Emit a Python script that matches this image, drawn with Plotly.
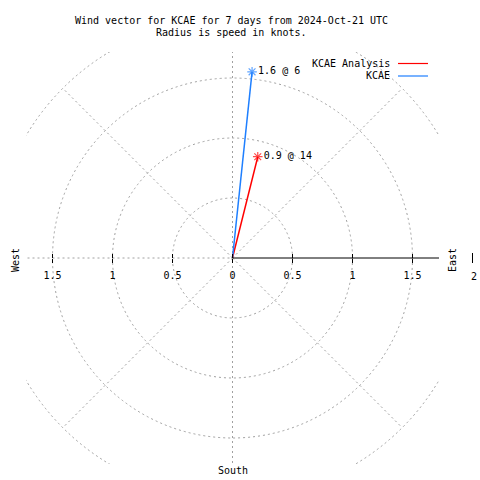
import math
import plotly.graph_objects as go

# ---- data ----
series_names = ["KCAE Analysis", "KCAE"]
series_colors = ["#ff0000", "#1e7fff"]
speeds = [0.87, 1.56]          # knots
directions = [14, 6]           # degrees (clockwise from north)

ring_radii = [0.5, 1.0, 1.5, 2.0]
spoke_angles = [45, 135, 225, 315]
tick_vals = [-1.5, -1.0, -0.5, 0.0, 0.5, 1.0, 1.5]
tick_text = ["1.5", "1", "0.5", "0", "0.5", "1", "1.5"]
title_lines = ["Wind vector for KCAE for 7 days from 2024-Oct-21 UTC",
               "Radius is speed in knots."]

W, H = 480, 480
L, T = 26, 52
PW, PH = 413, 412
R, B = W - L - PW, H - T - PH
UNIT = 120.0
XR = PW / 2 / UNIT
YR = PH / 2 / UNIT

FONT = "DejaVu Sans Mono"
GRID = "#a0a0a0"
DOT = "2px,3px"


def px(x):  # window pixel -> paper
    return (x - L) / PW


def py(y):
    return 1 - (y - T) / PH


fig = go.Figure()

shapes = []
for r in ring_radii:
    shapes.append(dict(type="circle", xref="x", yref="y", x0=-r, y0=-r, x1=r, y1=r,
                       line=dict(color=GRID, width=1, dash=DOT), layer="below"))
for a in spoke_angles:
    t = math.radians(a)
    shapes.append(dict(type="line", xref="x", yref="y", x0=0, y0=0,
                       x1=2 * math.cos(t), y1=2 * math.sin(t),
                       line=dict(color=GRID, width=1, dash=DOT), layer="below"))
shapes.append(dict(type="line", xref="x", yref="y", x0=0, y0=-2, x1=0, y1=2,
                   line=dict(color=GRID, width=1, dash=DOT), layer="below"))
shapes.append(dict(type="line", xref="x", yref="y", x0=-2, y0=0, x1=0, y1=0,
                   line=dict(color=GRID, width=1, dash=DOT), layer="below"))
shapes.append(dict(type="line", xref="x", yref="y", x0=0, y0=0, x1=XR, y1=0,
                   line=dict(color="black", width=1)))
# tick at r=2 outside plot area
shapes.append(dict(type="line", xref="paper", yref="paper", x0=px(472.5), x1=px(472.5),
                   y0=py(253), y1=py(263), line=dict(color="black", width=1)))

for name, col, s, d in zip(series_names, series_colors, speeds, directions):
    t = math.radians(d)
    xs = [0, s * math.sin(t)]
    ys = [0, s * math.cos(t)]
    fig.add_trace(go.Scatter(
        x=xs, y=ys, mode="lines+markers+text", name=name,
        line=dict(color=col, width=1.5),
        marker=dict(symbol="asterisk-open", size=[0, 8], color=col,
                    line=dict(color=col, width=1.2)),
        text=["", f"{s:.1f} @ {d}"], textposition="middle right",
        textfont=dict(family=FONT, size=10, color="black"),
        showlegend=False, cliponaxis=False, hoverinfo="skip"))

annotations = []
for i, line in enumerate(title_lines):
    annotations.append(dict(text=line, xref="paper", yref="paper", x=px(231.5), y=py(20 + 12 * i),
                            showarrow=False, xanchor="center", yanchor="middle",
                            font=dict(family=FONT, size=10, color="black")))
# legend
for i, (name, col) in enumerate(zip(series_names, series_colors)):
    yy = 63.5 + 12.5 * i
    annotations.append(dict(text=name, xref="paper", yref="paper", x=px(392), y=py(yy),
                            showarrow=False, xanchor="right", yanchor="middle",
                            font=dict(family=FONT, size=10, color="black")))
    shapes.append(dict(type="line", xref="paper", yref="paper", x0=px(398), x1=px(428),
                       y0=py(yy), y1=py(yy), line=dict(color=col, width=1.2)))

for txt, x, y, ang in [("West", 15, 260, -90), ("East", 452, 260, -90),
                       ("South", 233, 470, 0), ("2", 474, 276, 0)]:
    annotations.append(dict(text=txt, xref="paper", yref="paper", x=px(x), y=py(y),
                            showarrow=False, xanchor="center", yanchor="middle", textangle=ang,
                            font=dict(family=FONT, size=10, color="black")))

fig.update_layout(
    width=W, height=H, margin=dict(l=L, r=R, t=T, b=B, pad=0),
    paper_bgcolor="white", plot_bgcolor="white",
    shapes=shapes, annotations=annotations, showlegend=False,
    xaxis=dict(range=[-XR, XR], domain=[0, 1], anchor="free", position=0.5,
               showgrid=False, zeroline=False, showline=False,
               tickvals=tick_vals, ticktext=tick_text, ticks="outside", ticklen=4,
               tickcolor="black", ticklabelstandoff=4,
               tickfont=dict(family=FONT, size=10, color="black")),
    xaxis2=dict(range=[-XR, XR], overlaying="x", anchor="free", position=0.5,
                showgrid=False, zeroline=False, showline=False,
                tickvals=tick_vals, ticks="inside", ticklen=4, tickcolor="black",
                showticklabels=False),
    yaxis=dict(range=[-YR, YR], domain=[0, 1], showgrid=False, zeroline=False,
               showline=False, showticklabels=False, ticks=""),
)
fig.add_trace(go.Scatter(x=[None], y=[None], xaxis="x2", showlegend=False, hoverinfo="skip"))

fig.write_html("out.html", config={"displayModeBar": False},
               post_script="document.body.style.margin='0';document.body.style.overflow='hidden';")
